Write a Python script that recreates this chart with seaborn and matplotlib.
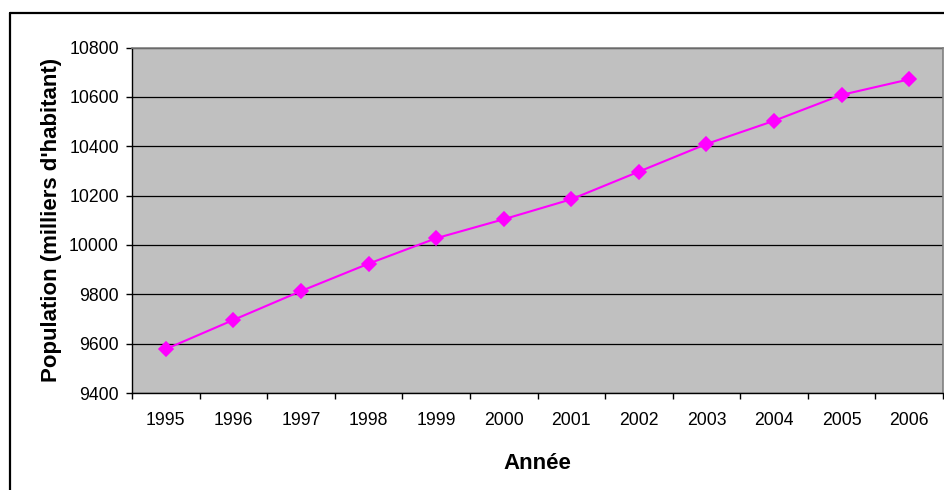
import matplotlib
matplotlib.use("Agg")
import matplotlib.pyplot as plt
from matplotlib.lines import Line2D
from matplotlib.ticker import FixedLocator
import numpy as np
import pandas as pd
import seaborn as sns

# Population par année (milliers d'habitants)
annees = ["1995", "1996", "1997", "1998", "1999", "2000",
          "2001", "2002", "2003", "2004", "2005", "2006"]
population = [9578, 9696, 9813, 9924, 10027, 10104,
              10185, 10297, 10409, 10503, 10608, 10671]
y_ticks = [9400, 9600, 9800, 10000, 10200, 10400, 10600, 10800]

df = pd.DataFrame({"Année": annees, "Population": population})

sns.set_style("white")
plt.rcParams["font.family"] = ["Liberation Sans", "DejaVu Sans"]
plt.rcParams["text.color"] = "black"
plt.rcParams["axes.labelcolor"] = "black"
plt.rcParams["xtick.color"] = "black"
plt.rcParams["ytick.color"] = "black"

fig = plt.figure(figsize=(9.44, 4.90), dpi=100)
ax = fig.add_axes([132 / 944, 1 - 393 / 490, (943 - 132) / 944, (393 - 47.5) / 490])
ax.set_facecolor("#C0C0C0")

sns.pointplot(data=df, x="Année", y="Population", order=annees,
              color="#FF00FF", markers="D", linestyles="-",
              markersize=7, linewidth=1.5, errorbar=None, ax=ax)

n = len(annees)
ax.set_xlim(-0.5, n - 0.5)
ax.set_ylim(y_ticks[0], y_ticks[-1])
ax.set_yticks(y_ticks)
ax.set_yticklabels([str(v) for v in y_ticks])

# category labels centred, tick marks on category boundaries
ax.xaxis.set_minor_locator(FixedLocator(np.arange(-0.5, n, 1.0)))
ax.tick_params(axis="x", which="major", length=0, pad=14, labelsize=12.7,
               colors="black")
ax.tick_params(axis="x", which="minor", bottom=True, length=4, width=1,
               color="black")
ax.tick_params(axis="y", which="major", left=True, length=4.5, width=1, pad=5,
               labelsize=12.7, colors="black")

ax.set_axisbelow(True)
ax.yaxis.grid(True, color="black", linewidth=0.9)
ax.xaxis.grid(False)

for side in ("left", "bottom"):
    ax.spines[side].set_color("black")
    ax.spines[side].set_linewidth(1.0)
for side in ("top", "right"):
    ax.spines[side].set_color("#808080")
    ax.spines[side].set_linewidth(1.2)
    ax.spines[side].set_visible(True)

ax.set_xlabel("Année", fontsize=16, fontweight="bold", labelpad=17,
              color="black")
ax.set_ylabel("Population (milliers d'habitant)", fontsize=16,
              fontweight="bold", labelpad=5, color="black")

# chart frame
top_y = 1 - 13.5 / 490
left_x = 9.5 / 944
fig.add_artist(Line2D([left_x, 1.0], [top_y, top_y], transform=fig.transFigure,
                      color="black", linewidth=1.6))
fig.add_artist(Line2D([left_x, left_x], [0.0, top_y], transform=fig.transFigure,
                      color="black", linewidth=1.6))

fig.savefig("out.png", dpi=100)
